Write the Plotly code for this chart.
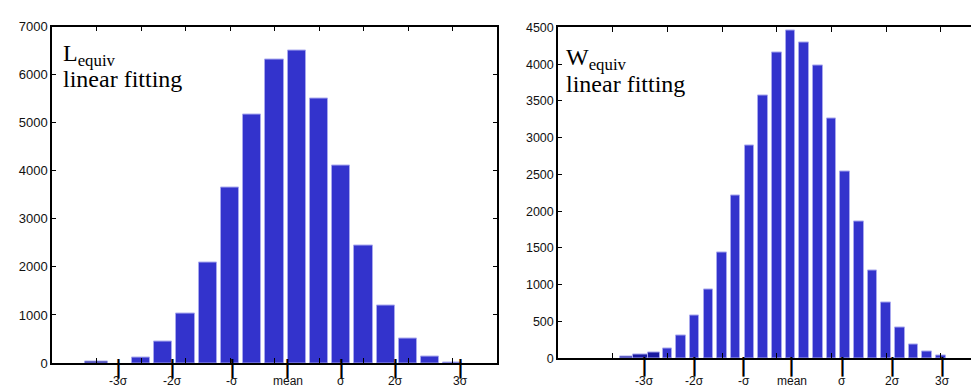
import plotly.graph_objects as go

# ---------------- data ----------------
# Left panel: L_equiv histogram (bin index -> count)
left_bins = [2, 4, 5, 6, 7, 8, 9, 10, 11, 12, 13, 14, 15, 16, 17, 18]
left_counts = [25, 110, 450, 1040, 2100, 3650, 5170, 6320, 6500, 5500, 4100, 2440, 1190, 500, 140, 20]
left_colors = ["#1a1a9a"] + ["#3333cc"] * 15

# Right panel: W_equiv histogram
right_bins = [5, 6, 7, 8, 9, 10, 11, 12, 13, 14, 15, 16, 17, 18, 19, 20,
              21, 22, 23, 24, 25, 26, 27, 28]
right_counts = [20, 50, 80, 130, 310, 580, 940, 1440, 2210, 2900, 3580, 4160, 4460, 4300, 3980, 3260,
                2540, 1860, 1190, 760, 415, 183, 92, 35]
right_colors = ["#1a1a9a", "#1a1aa0", "#1a1aa0"] + ["#3333cc"] * 21

# sigma markers (positions on the bin axis) and their labels
sigma_labels = ["-3σ", "-2σ", "-σ", "mean", "σ", "2σ", "3σ"]
left_sigma_pos = [3.0, 5.4, 8.1, 10.6, 13.0, 15.45, 18.35]
right_sigma_pos = [6.3, 10.0, 13.6, 17.1, 20.8, 24.5, 28.1]

left_yticks = [0, 1000, 2000, 3000, 4000, 5000, 6000, 7000]
right_yticks = [0, 500, 1000, 1500, 2000, 2500, 3000, 3500, 4000, 4500]

W, H = 979, 389
L_RANGE = 20
R_RANGE = 429 / 13.67
L_YMAX, R_YMAX = 7000, 4500
ldom_x = [44 / W, 489 / W]
ldom_y = [1 - 362 / H, 1 - 12 / H]
rdom_x = [550 / W, 1.0]
rdom_y = [1 - 357 / H, 1 - 13 / H]

fig = go.Figure()

fig.add_trace(go.Bar(x=left_bins, y=left_counts, width=[1.0] + [0.81] * 15,
                     marker=dict(color=left_colors, line=dict(color="#a8a8ee", width=1)),
                     xaxis="x", yaxis="y", showlegend=False, hoverinfo="skip"))
fig.add_trace(go.Bar(x=right_bins, y=right_counts, width=[1.0, 1.1, 0.9] + [0.7] * 21,
                     marker=dict(color=right_colors, line=dict(color="#a8a8ee", width=1)),
                     xaxis="x2", yaxis="y2", showlegend=False, hoverinfo="skip"))

tickfont_l = dict(family="Liberation Sans, Arial, sans-serif", size=13, color="#111")
tickfont_r = dict(family="Liberation Sans, Arial, sans-serif", size=12.5, color="#111")
sigfont = dict(family="Liberation Sans, Arial, sans-serif", size=12, color="#111")
barfont = dict(family="DejaVu Sans, sans-serif", size=19, color="black")

common_x = dict(showline=True, linecolor="black", linewidth=1.5, mirror="ticks",
                ticks="inside", ticklen=5, tickcolor="black", showticklabels=False,
                showgrid=False, zeroline=False)
common_y = dict(showline=True, linecolor="black", linewidth=1.5,
                ticks="inside", ticklen=4, tickcolor="black",
                showgrid=False, zeroline=False)

fig.update_layout(
    width=W, height=H,
    margin=dict(l=0, r=0, t=0, b=0),
    paper_bgcolor="white", plot_bgcolor="white",
    bargap=0,
    xaxis=dict(domain=ldom_x, range=[0, L_RANGE], tickvals=list(range(0, 21, 2)),
               anchor="y", **common_x),
    yaxis=dict(domain=ldom_y, range=[0, L_YMAX], tickvals=left_yticks, mirror="ticks",
               anchor="x", tickfont=tickfont_l, **common_y),
    xaxis2=dict(domain=rdom_x, range=[0, R_RANGE], tickvals=list(range(0, 33, 4)),
                anchor="y2", **common_x),
    yaxis2=dict(domain=rdom_y, range=[0, R_YMAX], tickvals=right_yticks, mirror=False,
                anchor="x2", tickfont=tickfont_r, **common_y),
)

# sigma marker ticks (bold vertical-bar glyphs hanging below the axis) + labels
for xref, positions, ymid in [("x", left_sigma_pos, 367), ("x2", right_sigma_pos, 365)]:
    for pos, lab in zip(positions, sigma_labels):
        fig.add_annotation(text="<b>|</b>", x=pos, y=1 - ymid / H, xref=xref, yref="paper",
                           xanchor="center", yanchor="middle", showarrow=False,
                           font=barfont, borderpad=0)
        fig.add_annotation(text=lab, x=pos, y=1 - 372 / H, xref=xref, yref="paper",
                           xanchor="center", yanchor="top", showarrow=False,
                           font=sigfont, borderpad=0)

serif = dict(family="Liberation Serif, Times New Roman, serif", size=24, color="black")
ann = [
    dict(text="L<sub>equiv</sub>", x=53 / W, y=1 - 24 / H),
    dict(text="linear fitting", x=53 / W, y=1 - 51 / H),
    dict(text="W<sub>equiv</sub>", x=556 / W, y=1 - 28 / H),
    dict(text="linear fitting", x=556 / W, y=1 - 56 / H),
]
for a in ann:
    fig.add_annotation(text=a["text"], x=a["x"], y=a["y"], xref="paper", yref="paper",
                       xanchor="left", yanchor="top", showarrow=False, font=serif)

fig.write_html("out.html")
